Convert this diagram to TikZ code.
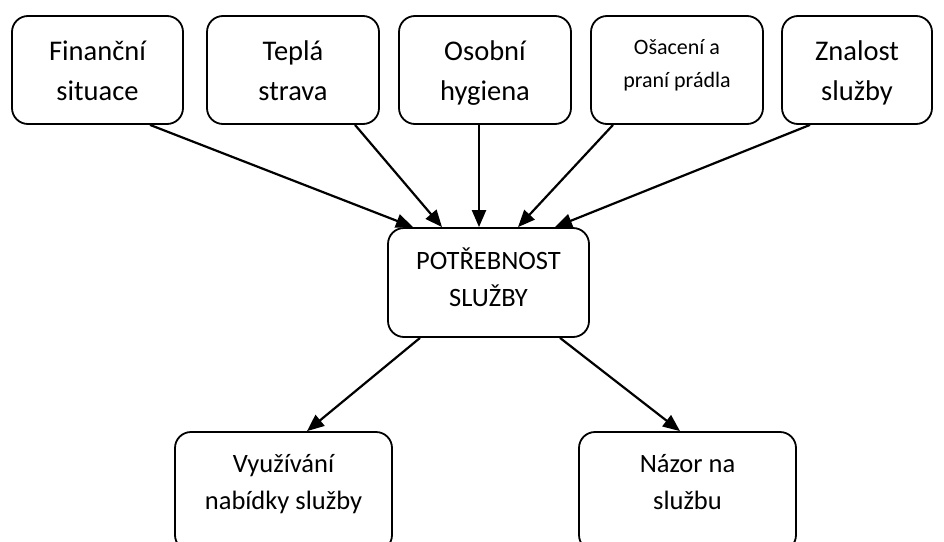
\documentclass[tikz,border=0pt]{standalone}
\usepackage{fontspec}
\setmainfont{Carlito}
\usetikzlibrary{arrows.meta}
\begin{document}
\begin{tikzpicture}[x=1pt,y=-1pt,
  box/.style={draw, line width=1.8pt, rounded corners=16pt, inner sep=0pt},
  lbl/.style={align=center, inner sep=0pt},
  big/.style={font=\fontsize{28.5}{40}\selectfont},
  small/.style={font=\fontsize{22}{33}\selectfont},
  mid/.style={font=\fontsize{26.5}{37}\selectfont},
  arr/.style={line width=2.2pt, -{Triangle[length=17pt,width=14pt]}}]
\useasboundingbox (0,0) rectangle (944,541);
\clip (0,0) rectangle (944,541);
% top boxes
\node[box, minimum width=171pt, minimum height=108pt] (b1) at (97.5,70) {};
\node[box, minimum width=172pt, minimum height=108pt] (b2) at (293,70) {};
\node[box, minimum width=172pt, minimum height=108pt] (b3) at (485,70) {};
\node[box, minimum width=172pt, minimum height=108pt] (b4) at (677,70) {};
\node[box, minimum width=150pt, minimum height=108pt] (b5) at (857,70) {};
\node[lbl, big] (t1) at (97.5,72) {\strut Finanční\\situace\strut};
\node[lbl, big] (t2) at (293,72) {\strut Teplá\\strava\strut};
\node[lbl, big] (t3) at (485,72) {\strut Osobní\\hygiena\strut};
\node[lbl, small] (t4) at (677,64) {\strut Ošacení a\\praní prádla\strut};
\node[lbl, big] (t5) at (857,72) {\strut Znalost\\služby\strut};
% centre box
\node[box, minimum width=201pt, minimum height=109pt] (c) at (488.5,282.5) {};
\node[lbl, mid] (tc) at (488.5,281) {\strut POTŘEBNOST\\SLUŽBY\strut};
% bottom boxes
\node[box, minimum width=217pt, minimum height=119pt] (d1) at (283.5,491.5) {};
\node[box, minimum width=217pt, minimum height=119pt] (d2) at (687.5,491.5) {};
\node[lbl, mid] (td1) at (283.5,484) {\strut Využívání\\nabídky služby\strut};
\node[lbl, mid] (td2) at (687.5,484) {\strut Názor na\\službu\strut};
% arrows
\draw[arr] ([xshift=52.5pt]b1.south) -- ([xshift=-75.5pt]c.north);
\draw[arr] ([xshift=62pt]b2.south) -- ([xshift=-46.5pt]c.north);
\draw[arr] ([xshift=-6pt]b3.south) -- ([xshift=-9.5pt]c.north);
\draw[arr] ([xshift=-64pt]b4.south) -- ([xshift=29.5pt]c.north);
\draw[arr] ([xshift=-47pt]b5.south) -- ([xshift=66.5pt]c.north);
\draw[arr] ([xshift=-68.5pt]c.south) -- ([xshift=23.5pt]d1.north);
\draw[arr] ([xshift=71.5pt]c.south) -- ([xshift=-7.5pt]d2.north);
\end{tikzpicture}
\end{document}
